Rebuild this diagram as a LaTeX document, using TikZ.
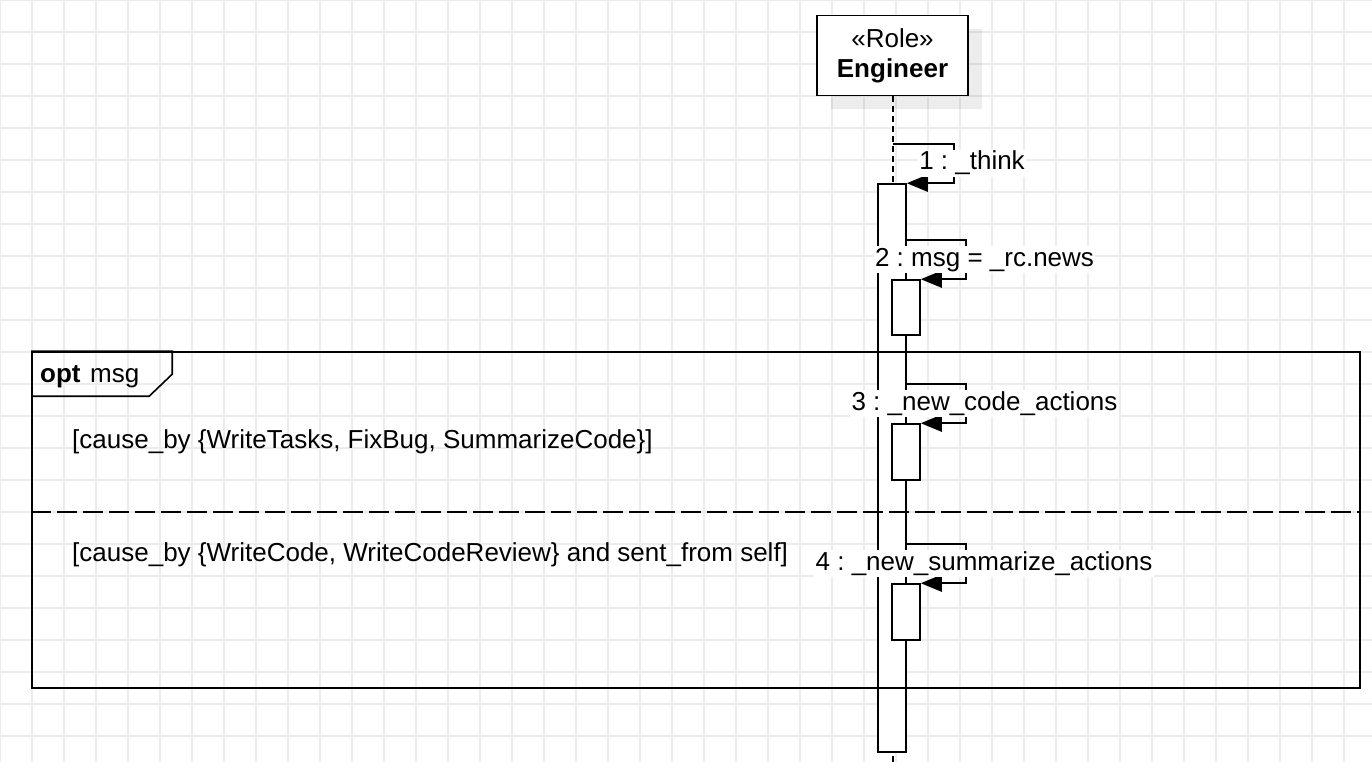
\documentclass[tikz,border=0pt]{standalone}
\usepackage{fontspec}
\setmainfont{Liberation Sans}
\usetikzlibrary{arrows.meta,positioning,shadows}
\definecolor{sqGrid}{RGB}{236,236,236}
\definecolor{sqLine}{RGB}{0,0,0}

\begin{document}
\frenchspacing
\begin{tikzpicture}[
  x=1pt,y=-1pt,
  >={Triangle[length=21pt,width=17pt]},
  font=\fontsize{26}{30}\selectfont,
  gridline/.style={sqGrid,line width=1.5pt},
  rolebox/.style={draw=sqLine,line width=1.6pt,fill=white,align=center,
               minimum width=151pt,minimum height=80pt,inner sep=0pt,
               font=\fontsize{26}{30}\selectfont,
               drop shadow={shadow xshift=14pt,shadow yshift=-14pt,
                            fill=black,opacity=0.07}},
  actbox/.style={draw=sqLine,line width=1.6pt,fill=white,
               minimum width=28pt,inner sep=0pt},
  lifeline/.style={sqLine,line width=1.6pt,dash pattern=on 6pt off 4pt},
  selfmsg/.style={->,sqLine,line width=1.6pt},
  msglabel/.style={fill=white,inner sep=1.5pt,anchor=base},
  fragment/.style={draw=sqLine,line width=1.6pt,minimum width=1328pt,
               minimum height=336pt,inner sep=0pt},
  guard/.style={anchor=base west,inner sep=0pt},
  altsep/.style={sqLine,line width=1.6pt,dash pattern=on 20pt off 6pt},
]
\useasboundingbox (0,0) rectangle (1372,762);
\fill[white] (0,0) rectangle (1372,762);
% background grid
\foreach \gx in {0,32,...,1344} \draw[gridline] (\gx,0) -- (\gx,762);
\foreach \gy in {0,32,...,736} \draw[gridline] (0,\gy) -- (1372,\gy);

% lifeline
\node[rolebox] (eng) at (892.5,55.5) {«Role»\\\textbf{Engineer}};
\coordinate (llend) at (893,762);
\draw[lifeline] (eng.south -| llend) -- (llend);

% activations
\node[actbox,minimum height=568pt] (act0) at (892,468) {};
\node[actbox,minimum height=55pt] (act1) at (906,307.5) {};
\node[actbox,minimum height=56pt] (act2) at (906,452) {};
\node[actbox,minimum height=56pt] (act3) at (906,612) {};

% opt fragment
\node[fragment] (opt) at (696,520) {};
\draw[sqLine,line width=1.6pt] (opt.north west) -- ++(141,0) -- ++(0,23)
   -- ++(-23,22) -- ++(-118,0);
\node[anchor=base west,inner sep=0pt,font=\fontsize{26}{30}\selectfont\bfseries]
   (optkw) at (40,382) {opt};
\node[anchor=base west,inner sep=0pt] (optcond) at (90,382) {msg};
\coordinate (sepy) at (0,512);
\draw[altsep] (opt.west |- sepy) -- (opt.east |- sepy);
\node[guard] (g1) at (72,448) {[cause\_by \{WriteTasks, FixBug, SummarizeCode\}]};
\node[guard] (g2) at (72,561) {[cause\_by \{WriteCode, WriteCodeReview\} and sent\_from self]};

% self messages
\coordinate (m1s) at (893,144);
\coordinate (m2s) at (906,240);
\coordinate (m3s) at (906,384);
\coordinate (m4s) at (906,544);
\draw[selfmsg] (m1s) -- ++(61,0) |- (act0.north east);
\draw[selfmsg] (m2s) -- ++(60,0) |- (act1.north east);
\draw[selfmsg] (m3s) -- ++(60,0) |- (act2.north east);
\draw[selfmsg] (m4s) -- ++(60,0) |- (act3.north east);
\node[msglabel] (l1) at (972,170) {1 : \_think};
\node[msglabel] (l2) at (984.5,266) {2 : msg = \_rc.news};
\node[msglabel] (l3) at (984.5,410) {3 : \_new\_code\_actions};
\node[msglabel] (l4) at (984,570) {4 : \_new\_summarize\_actions};
\end{tikzpicture}
\end{document}
